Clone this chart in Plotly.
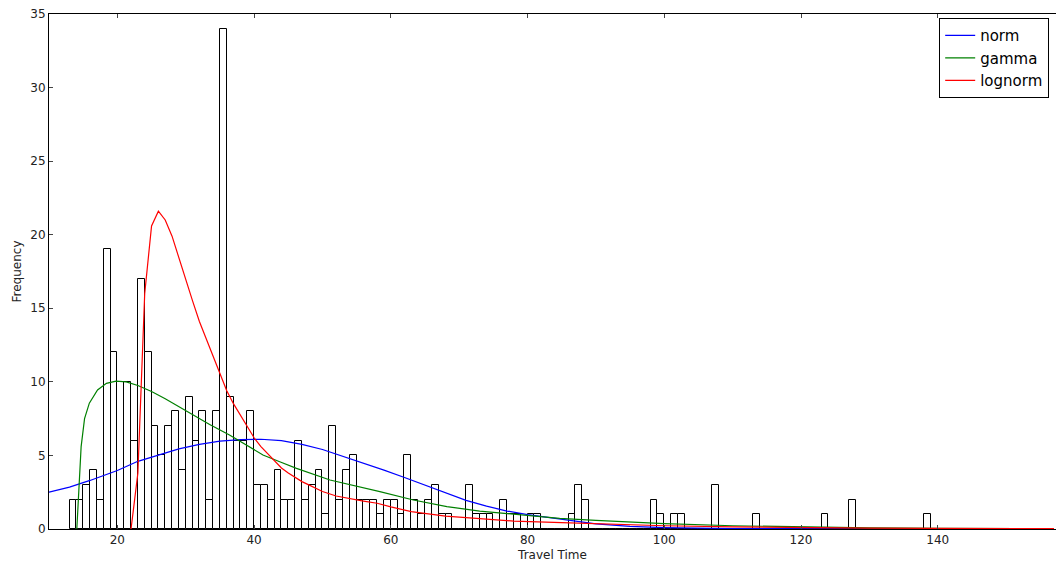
import plotly.graph_objects as go

# ---- data ----
bin_start = 13
bin_width = 1
counts = [2, 2, 3, 4, 2, 19, 12, 10, 10, 6,      # 13-22
          17, 12, 7, 5, 7, 8, 4, 9, 6, 8,        # 23-32
          2, 8, 34, 9, 6, 6, 8, 3, 3, 2,         # 33-42
          4, 2, 2, 6, 2, 3, 4, 1, 7, 2,          # 43-52
          4, 5, 2, 2, 2, 1, 2, 2, 1, 5,          # 53-62
          2, 1, 2, 3, 1, 1, 0, 0, 3, 1,          # 63-72
          1, 1, 0, 2, 1, 1, 0, 1, 1, 0,          # 73-82
          0, 0, 0, 1, 3, 2, 0, 0, 0, 0,          # 83-92
          0, 0, 0, 0, 0, 2, 1, 0, 1, 1,          # 93-102
          0, 0, 0, 0, 3, 0, 0, 0, 0, 0,          # 103-112
          1, 0, 0, 0, 0, 0, 0, 0, 0, 0,          # 113-122
          1, 0, 0, 0, 2, 0, 0, 0, 0, 0,          # 123-132
          0, 0, 0, 0, 0, 1]                      # 133-138

norm_x = [10, 13, 16, 20, 23, 26, 29, 32, 35, 38, 41, 44, 47, 50, 53, 56, 59,
          62, 65, 68, 71, 74, 77, 80, 84, 90, 95, 100, 110, 120, 130, 157]
norm_y = [2.5, 2.85, 3.3, 3.98, 4.6, 5.05, 5.45, 5.75, 5.97, 6.08, 6.1, 6.0,
          5.75, 5.4, 4.95, 4.45, 4.0, 3.5, 3.0, 2.45, 1.95, 1.55, 1.22, 0.98,
          0.72, 0.35, 0.18, 0.1, 0.03, 0.01, 0.0, 0.0]

gamma_x = [14.07, 14.7, 15.2, 15.9, 17.1, 18.4, 19.8, 21.3, 23.0, 25.0, 27.0,
           30.0, 33.5, 36.4, 41.3, 43.75, 46.2, 51.1, 55.5, 58.4, 63.3, 68.2,
           73.0, 77.9, 84.7, 90, 100, 110, 120, 130, 140, 157]
gamma_y = [0.0, 5.6, 7.5, 8.55, 9.45, 9.9, 10.05, 10.0, 9.75, 9.35, 8.85,
           8.05, 7.1, 6.39, 5.03, 4.57, 4.12, 3.33, 2.88, 2.54, 1.97, 1.52,
           1.22, 1.02, 0.72, 0.58, 0.36, 0.22, 0.13, 0.08, 0.05, 0.02]

lognorm_x = [22.0, 23.0, 24.0, 25.0, 26.0, 27.0, 28.0, 29.0, 30.0, 31.0, 32.0,
             33.0, 34.0, 35.0, 36.0, 37.0, 38.0, 39.0, 40.0, 41.0, 42.0, 43.0,
             44.0, 45.0, 46.0, 47.0, 48.0, 50.0, 52.0, 54.0, 56.0, 58.0, 60.0,
             63.0, 68.0, 73.0, 78.0, 85.0, 90, 100, 110, 120, 130, 140, 157]
lognorm_y = [0.0, 3.8, 16.0, 20.6, 21.6, 21.0, 19.9, 18.4, 17.0, 15.5, 14.1,
             12.9, 11.8, 10.6, 9.4, 8.5, 7.7, 7.0, 6.2, 5.6, 5.1, 4.6, 4.15,
             3.8, 3.5, 3.22, 3.0, 2.55, 2.24, 2.05, 1.9, 1.75, 1.5, 1.18, 0.88,
             0.7, 0.54, 0.43, 0.35, 0.22, 0.14, 0.09, 0.06, 0.04, 0.02]

x_ticks = [20, 40, 60, 80, 100, 120, 140]
y_ticks = [0, 5, 10, 15, 20, 25, 30, 35]

# ---- figure ----
bin_centers = [bin_start + bin_width * (i + 0.5) for i in range(len(counts))]

fig = go.Figure()
fig.add_trace(go.Bar(
    x=bin_centers, y=counts, width=bin_width,
    marker=dict(color="white", line=dict(color="black", width=1)),
    showlegend=False, hoverinfo="skip"))

for name, xs, ys, col in [("norm", norm_x, norm_y, "#0000ff"),
                          ("gamma", gamma_x, gamma_y, "#008000"),
                          ("lognorm", lognorm_x, lognorm_y, "#ff0000")]:
    fig.add_trace(go.Scatter(x=xs, y=ys, mode="lines", name=name,
                             line=dict(color=col, width=1.2)))

font = "DejaVu Sans, Arial, sans-serif"
fig.update_layout(
    width=1056, height=563,
    margin=dict(l=49, r=0, t=14, b=34),
    paper_bgcolor="white", plot_bgcolor="white",
    font=dict(family=font, size=12, color="#222"),
    bargap=0,
    legend=dict(x=0.884, y=0.992, xanchor="left", yanchor="top",
                bgcolor="white", bordercolor="black", borderwidth=1,
                entrywidth=72, entrywidthmode="pixels",
                font=dict(size=15, color="black")),
    xaxis=dict(range=[10, 157.3], tickvals=x_ticks, ticks="inside", ticklen=4,
               showline=True, linecolor="black", linewidth=1, mirror="ticks",
               showgrid=False, zeroline=False,
               title=dict(text="Travel Time", standoff=4, font=dict(size=12))),
    yaxis=dict(range=[0, 35], tickvals=y_ticks, ticks="inside", ticklen=4,
               showline=True, linecolor="black", linewidth=1,
               showgrid=False, zeroline=False,
               title=dict(text="Frequency", standoff=6, font=dict(size=12))),
)

fig.write_html("out.html",
               config={"displayModeBar": False},
               post_script="document.body.style.margin='0px';"
                           "document.body.style.padding='0px';")
